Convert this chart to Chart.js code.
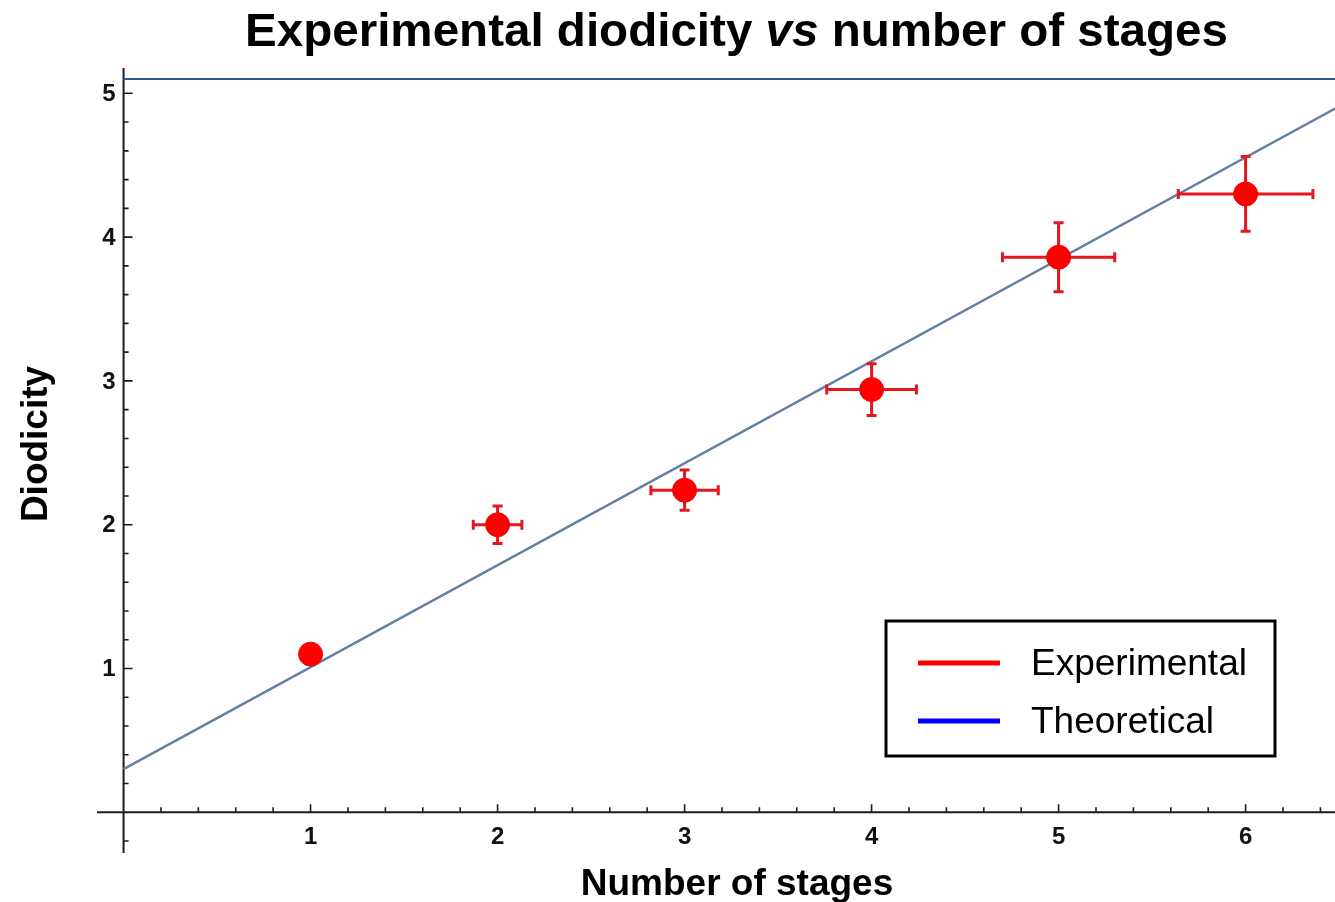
<!DOCTYPE html>
<html>
<head>
<meta charset="utf-8">
<title>Experimental diodicity vs number of stages</title>
<script src="https://cdn.jsdelivr.net/npm/chart.js@4/dist/chart.umd.min.js"></script>
<style>
  html, body { margin: 0; padding: 0; background: #ffffff; overflow: hidden; }
  #wrap { width: 1335px; height: 902px; position: relative; }
  #chart { display: block; }
</style>
</head>
<body>
<div id="wrap"><canvas id="chart" width="1335" height="902"></canvas></div>
<script>
// Measured diodicity per number of stages, with uncertainties in both directions
const stages = [1, 2, 3, 4, 5, 6];
const diodicity = [1.10, 2.00, 2.24, 2.94, 3.86, 4.30];
const stageErr = [0, 0.13, 0.18, 0.24, 0.30, 0.36];
const diodicityErr = [0, 0.13, 0.14, 0.18, 0.24, 0.26];

// Theoretical prediction (straight line)
const theoryStages = [0, 6.6];
const theoryDiodicity = [0.30, 4.98];

// Upper reference level
const limitStages = [0, 6.6];
const limitDiodicity = [5.10, 5.10];

// Axis tick labels
const xTickLabels = [1, 2, 3, 4, 5, 6];
const yTickLabels = [1, 2, 3, 4, 5];

const toPoints = (xs, ys) => xs.map((x, i) => ({ x: x, y: ys[i] }));

const FONT = '"Liberation Sans", Arial, Helvetica, sans-serif';

// Axes crossing at the origin, with inward major and minor tick marks
const axesPlugin = {
  id: 'originAxes',
  beforeDatasetsDraw(chart) {
    const { ctx, chartArea: a, scales: { x, y } } = chart;
    const x0 = x.getPixelForValue(0);
    const y0 = y.getPixelForValue(0);
    ctx.save();
    ctx.strokeStyle = '#1c1c1c';
    ctx.lineWidth = 2;
    ctx.beginPath();
    ctx.moveTo(x0, a.top);
    ctx.lineTo(x0, a.bottom);
    ctx.moveTo(a.left, y0);
    ctx.lineTo(a.right, y0);
    ctx.stroke();

    ctx.lineWidth = 1.6;
    ctx.beginPath();
    for (let k = -1; k <= 25; k++) {
      if (k === 0) continue;
      const py = y.getPixelForValue(k / 5);
      const len = k % 5 === 0 ? 9 : 5;
      ctx.moveTo(x0, py);
      ctx.lineTo(x0 + len, py);
    }
    for (let k = 1; k <= 32; k++) {
      const px = x.getPixelForValue(k / 5);
      const len = k % 5 === 0 ? 8 : 5;
      ctx.moveTo(px, y0);
      ctx.lineTo(px, y0 - len);
    }
    ctx.stroke();
    ctx.restore();
  }
};

// Error bars with caps, drawn just beneath the experimental markers
const errorBarPlugin = {
  id: 'errorBars',
  beforeDatasetDraw(chart, args) {
    if (args.index !== 0) return;
    const { ctx, scales: { x, y } } = chart;
    const cap = 5;
    ctx.save();
    ctx.strokeStyle = '#e4161e';
    ctx.lineWidth = 3;
    ctx.beginPath();
    stages.forEach((s, i) => {
      const d = diodicity[i];
      const px = x.getPixelForValue(s);
      const py = y.getPixelForValue(d);
      if (stageErr[i] > 0) {
        const l = x.getPixelForValue(s - stageErr[i]);
        const r = x.getPixelForValue(s + stageErr[i]);
        ctx.moveTo(l, py); ctx.lineTo(r, py);
        ctx.moveTo(l, py - cap); ctx.lineTo(l, py + cap);
        ctx.moveTo(r, py - cap); ctx.lineTo(r, py + cap);
      }
      if (diodicityErr[i] > 0) {
        const t = y.getPixelForValue(d + diodicityErr[i]);
        const b = y.getPixelForValue(d - diodicityErr[i]);
        ctx.moveTo(px, t); ctx.lineTo(px, b);
        ctx.moveTo(px - cap, t); ctx.lineTo(px + cap, t);
        ctx.moveTo(px - cap, b); ctx.lineTo(px + cap, b);
      }
    });
    ctx.stroke();
    ctx.restore();
  }
};

// Tick labels, titles and the boxed legend
const textPlugin = {
  id: 'chartText',
  afterDraw(chart) {
    const { ctx, scales: { x, y } } = chart;
    const x0 = x.getPixelForValue(0);
    ctx.save();
    ctx.fillStyle = '#111111';

    // tick labels
    ctx.font = 'bold 24px ' + FONT;
    ctx.textAlign = 'center';
    ctx.textBaseline = 'alphabetic';
    xTickLabels.forEach(v => ctx.fillText(String(v), x.getPixelForValue(v), 844));
    ctx.textAlign = 'right';
    ctx.textBaseline = 'middle';
    yTickLabels.forEach(v => ctx.fillText(String(v), x0 - 8, y.getPixelForValue(v) + 1));

    // axis titles
    ctx.fillStyle = '#000000';
    ctx.font = 'bold 37px ' + FONT;
    ctx.textAlign = 'center';
    ctx.textBaseline = 'alphabetic';
    ctx.fillText('Number of stages', 737, 895);
    ctx.save();
    ctx.translate(47, 444);
    ctx.rotate(-Math.PI / 2);
    ctx.fillText('Diodicity', 0, 0);
    ctx.restore();

    // chart title, with the italic "vs"
    const parts = [
      { t: 'Experimental diodicity ', f: 'bold 46px ' + FONT },
      { t: 'vs', f: 'italic bold 46px ' + FONT },
      { t: ' number of stages', f: 'bold 46px ' + FONT }
    ];
    ctx.textAlign = 'left';
    let total = 0;
    parts.forEach(p => { ctx.font = p.f; p.w = ctx.measureText(p.t).width; total += p.w; });
    const sx = 983 / total;
    ctx.save();
    ctx.translate(736.5 - 983 / 2, 46);
    ctx.scale(sx, 1);
    let cx = 0;
    parts.forEach(p => { ctx.font = p.f; ctx.fillText(p.t, cx, 0); cx += p.w; });
    ctx.restore();

    // legend
    const lx = 886, ly = 621, lw = 389, lh = 135;
    ctx.fillStyle = '#ffffff';
    ctx.fillRect(lx, ly, lw, lh);
    ctx.strokeStyle = '#000000';
    ctx.lineWidth = 3;
    ctx.strokeRect(lx, ly, lw, lh);
    ctx.lineWidth = 5;
    ctx.strokeStyle = '#ff0000';
    ctx.beginPath(); ctx.moveTo(918, 663); ctx.lineTo(1000, 663); ctx.stroke();
    ctx.strokeStyle = '#0000ff';
    ctx.beginPath(); ctx.moveTo(918, 721); ctx.lineTo(1000, 721); ctx.stroke();
    ctx.fillStyle = '#000000';
    ctx.font = '37px ' + FONT;
    ctx.textAlign = 'left';
    ctx.fillText('Experimental', 1031, 675);
    ctx.fillText('Theoretical', 1031, 733);
    ctx.restore();
  }
};

new Chart(document.getElementById('chart'), {
  type: 'scatter',
  data: {
    datasets: [
      {
        label: 'Experimental',
        data: toPoints(stages, diodicity),
        showLine: false,
        pointRadius: 12,
        pointHoverRadius: 12,
        pointBackgroundColor: '#ff0000',
        pointBorderColor: '#f40000',
        pointBorderWidth: 1,
        order: 0
      },
      {
        label: 'Theoretical',
        data: toPoints(theoryStages, theoryDiodicity),
        showLine: true,
        pointRadius: 0,
        borderColor: '#6480a8',
        borderWidth: 2.5,
        order: 1
      },
      {
        label: 'Limit',
        data: toPoints(limitStages, limitDiodicity),
        showLine: true,
        pointRadius: 0,
        borderColor: '#30598c',
        borderWidth: 2,
        order: 2
      }
    ]
  },
  options: {
    responsive: false,
    animation: false,
    events: [],
    layout: { autoPadding: false, padding: { left: 97, right: 0, top: 68, bottom: 49 } },
    scales: {
      x: { type: 'linear', min: -0.142, max: 6.478, display: false },
      y: { type: 'linear', min: -0.283, max: 5.176, display: false }
    },
    plugins: {
      legend: { display: false },
      title: { display: false },
      tooltip: { enabled: false }
    }
  },
  plugins: [axesPlugin, errorBarPlugin, textPlugin]
});
</script>
</body>
</html>
